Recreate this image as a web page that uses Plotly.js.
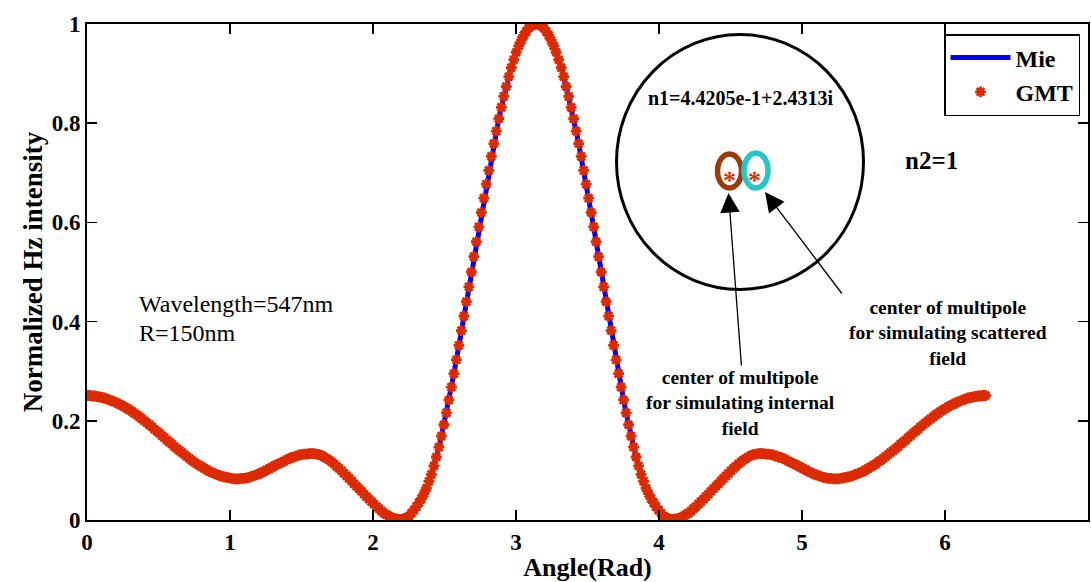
<!DOCTYPE html>
<html>
<head>
<meta charset="utf-8">
<script src="https://cdn.plot.ly/plotly-3.0.1.min.js"></script>
<style>html,body{margin:0;padding:0;background:#fff;}#chart{width:1091px;height:582px;}</style>
</head>
<body>
<div id="chart"></div>
<script>
// Scattering angle in degrees (0..360), converted to radians for the x axis
const angleDeg = [
0,1,2,3,4,5,6,7,8,9,10,11,12,13,14,15,16,17,18,19,
20,21,22,23,24,25,26,27,28,29,30,31,32,33,34,35,36,37,38,39,
40,41,42,43,44,45,46,47,48,49,50,51,52,53,54,55,56,57,58,59,
60,61,62,63,64,65,66,67,68,69,70,71,72,73,74,75,76,77,78,79,
80,81,82,83,84,85,86,87,88,89,90,91,92,93,94,95,96,97,98,99,
100,101,102,103,104,105,106,107,108,109,110,111,112,113,114,115,116,117,118,119,
120,121,122,123,124,125,126,127,128,129,130,131,132,133,134,135,136,137,138,139,
140,141,142,143,144,145,146,147,148,149,150,151,152,153,154,155,156,157,158,159,
160,161,162,163,164,165,166,167,168,169,170,171,172,173,174,175,176,177,178,179,
180,181,182,183,184,185,186,187,188,189,190,191,192,193,194,195,196,197,198,199,
200,201,202,203,204,205,206,207,208,209,210,211,212,213,214,215,216,217,218,219,
220,221,222,223,224,225,226,227,228,229,230,231,232,233,234,235,236,237,238,239,
240,241,242,243,244,245,246,247,248,249,250,251,252,253,254,255,256,257,258,259,
260,261,262,263,264,265,266,267,268,269,270,271,272,273,274,275,276,277,278,279,
280,281,282,283,284,285,286,287,288,289,290,291,292,293,294,295,296,297,298,299,
300,301,302,303,304,305,306,307,308,309,310,311,312,313,314,315,316,317,318,319,
320,321,322,323,324,325,326,327,328,329,330,331,332,333,334,335,336,337,338,339,
340,341,342,343,344,345,346,347,348,349,350,351,352,353,354,355,356,357,358,359,
360];

// Normalized Hz intensity, one value per angle
const intensity = [
.251,.251,.250,.250,.249,.248,.247,.246,.244,.242,
.240,.238,.236,.233,.231,.228,.225,.222,.219,.215,
.212,.208,.204,.200,.196,.192,.188,.183,.179,.175,
.170,.166,.161,.157,.153,.148,.144,.140,.136,.132,
.128,.124,.120,.117,.113,.110,.107,.104,.101,.098,
.096,.094,.092,.090,.088,.087,.086,.085,.084,.083,
.083,.083,.084,.084,.085,.086,.088,.090,.091,.093,
.096,.098,.101,.103,.106,.109,.111,.114,.116,.119,
.121,.124,.126,.127,.129,.131,.132,.133,.133,.134,
.134,.134,.133,.132,.130,.127,.124,.121,.117,.113,
.108,.104,.099,.094,.089,.084,.079,.073,.068,.063,
.058,.052,.047,.042,.037,.032,.027,.023,.018,.014,
.011,.008,.005,.003,.002,.001,.001,.002,.005,.008,
.014,.020,.027,.035,.043,.053,.064,.078,.092,.109,
.127,.147,.169,.192,.216,.242,.268,.295,.323,.352,
.382,.411,.440,.470,.500,.531,.561,.591,.620,.649,
.677,.705,.733,.759,.784,.809,.832,.854,.874,.894,
.912,.928,.943,.956,.967,.977,.985,.992,.996,.999,
1.000,
.999,.996,.992,.985,.977,.967,.956,.943,.928,.912,
.894,.874,.854,.832,.809,.784,.759,.733,.705,.677,
.649,.620,.591,.561,.531,.500,.470,.440,.411,.382,
.352,.323,.295,.268,.242,.216,.192,.169,.147,.127,
.109,.092,.078,.064,.053,.043,.035,.027,.020,.014,
.008,.005,.002,.001,.001,.002,.003,.005,.008,.011,
.014,.018,.023,.027,.032,.037,.042,.047,.052,.058,
.063,.068,.073,.079,.084,.089,.094,.099,.104,.108,
.113,.117,.121,.124,.127,.130,.132,.133,.134,.134,
.134,.133,.133,.132,.131,.129,.127,.126,.124,.121,
.119,.116,.114,.111,.109,.106,.103,.101,.098,.096,
.093,.091,.090,.088,.086,.085,.084,.084,.083,.083,
.083,.084,.085,.086,.087,.088,.090,.092,.094,.096,
.098,.101,.104,.107,.110,.113,.117,.120,.124,.128,
.132,.136,.140,.144,.148,.153,.157,.161,.166,.170,
.175,.179,.183,.188,.192,.196,.200,.204,.208,.212,
.215,.219,.222,.225,.228,.231,.233,.236,.238,.240,
.242,.244,.246,.247,.248,.249,.250,.250,.251,.251];

const seriesNames = ['Mie', 'GMT'];
const xTickVals = [0,1,2,3,4,5,6,7];
const yTickVals = [0,0.2,0.4,0.6,0.8,1];

const angleRad = angleDeg.map(d => d * Math.PI / 180);

const FONT = 'Liberation Serif, Times New Roman, serif';
const RED = '#dc2a00';

const traces = [
  {x: angleRad, y: intensity, mode: 'lines', name: seriesNames[0],
   line: {color: '#0000ff', width: 5}, hoverinfo: 'skip'},
  {x: angleRad, y: intensity, mode: 'markers', name: seriesNames[1],
   marker: {symbol: 'asterisk-open', size: 9, color: RED, line: {color: RED, width: 2.8}}, hoverinfo: 'skip'}
];

// pixel -> paper helpers for decorations (plot area 87..1088 x 24..520)
const PX = v => (v - 87) / 1001;
const PY = v => (520 - v) / 496;

const bold = (size, color) => ({family: FONT, size: size, color: color || '#000', weight: 'bold'});

const annotations = [
  {xref:'paper', yref:'paper', x: PX(740), y: PY(98), text: 'n1=4.4205e-1+2.4313i', showarrow:false, xanchor:'center', yanchor:'middle', font: bold(20)},
  {xref:'paper', yref:'paper', x: PX(931), y: PY(160), text: 'n2=1', showarrow:false, xanchor:'center', yanchor:'middle', font: bold(25)},
  {xref:'paper', yref:'paper', x: PX(137), y: PY(304), text: 'Wavelength=547nm', showarrow:false, xanchor:'left', yanchor:'middle', font: {family: FONT, size: 24, color:'#000'}},
  {xref:'paper', yref:'paper', x: PX(137), y: PY(333), text: 'R=150nm', showarrow:false, xanchor:'left', yanchor:'middle', font: {family: FONT, size: 24, color:'#000'}},
  {xref:'paper', yref:'paper', x: PX(948), y: PY(333), text: 'center of multipole<br>for simulating scattered<br>field', showarrow:false, xanchor:'center', yanchor:'middle', align:'center', font: bold(19.5)},
  {xref:'paper', yref:'paper', x: PX(740), y: PY(403), text: 'center of multipole<br>for simulating internal<br>field', showarrow:false, xanchor:'center', yanchor:'middle', align:'center', font: bold(19.5)},
  {xref:'paper', yref:'paper', x: PX(729), y: PY(173), text: '*', showarrow:false, xanchor:'center', yanchor:'middle', yshift:-7, font: bold(26, RED)},
  {xref:'paper', yref:'paper', x: PX(754), y: PY(173), text: '*', showarrow:false, xanchor:'center', yanchor:'middle', yshift:-7, font: bold(26, RED)},
  {xref:'paper', yref:'paper', x: PX(728.5), y: PY(193), text: '', showarrow:true, ax: 13, ay: 174, arrowhead: 2, arrowsize: 3, arrowwidth: 1.3, arrowcolor:'#000', standoff: 0},
  {xref:'paper', yref:'paper', x: PX(765), y: PY(192), text: '', showarrow:true, ax: 78, ay: 103, arrowhead: 2, arrowsize: 3, arrowwidth: 1.3, arrowcolor:'#000', standoff: 0}
];

const shapes = [
  {type:'circle', xref:'paper', yref:'paper', x0: PX(616.5), x1: PX(863.5), y0: PY(289.5), y1: PY(34.5), line:{color:'#000', width:3}},
  {type:'circle', xref:'paper', yref:'paper', x0: PX(717.5), x1: PX(741.5), y0: PY(188), y1: PY(154), line:{color:'#9a3a0a', width:5.5}},
  {type:'circle', xref:'paper', yref:'paper', x0: PX(744), x1: PX(768), y0: PY(188), y1: PY(153), line:{color:'#22c8c8', width:5.5}}
];

const axisCommon = {
  ticks: 'inside', ticklen: 10, tickwidth: 1.5, tickcolor: '#000',
  showline: true, linecolor: '#000', linewidth: 2, mirror: 'ticks',
  showgrid: false, zeroline: false,
  tickfont: bold(23)
};

const layout = {
  width: 1091, height: 582,
  margin: {l: 87, r: 3, t: 24, b: 62},
  paper_bgcolor: '#fff', plot_bgcolor: '#fff',
  font: {family: FONT, color: '#000'},
  showlegend: true,
  legend: {x: PX(1080), xanchor: 'right', y: PY(34), yanchor: 'top',
           bgcolor: '#fff', bordercolor: '#000', borderwidth: 1.5,
           font: bold(24), itemwidth: 60},
  xaxis: Object.assign({}, axisCommon, {
    range: [0, 7], tickvals: xTickVals, ticktext: xTickVals.map(String),
    title: {text: 'Angle(Rad)', font: bold(26), standoff: 4}
  }),
  yaxis: Object.assign({}, axisCommon, {
    range: [0, 1], tickvals: yTickVals, ticktext: yTickVals.map(String),
    title: {text: 'Normalized Hz intensity', font: bold(27), standoff: 1}
  }),
  annotations: annotations,
  shapes: shapes
};

Plotly.newPlot('chart', traces, layout, {displayModeBar: false, staticPlot: true});
</script>
</body>
</html>
